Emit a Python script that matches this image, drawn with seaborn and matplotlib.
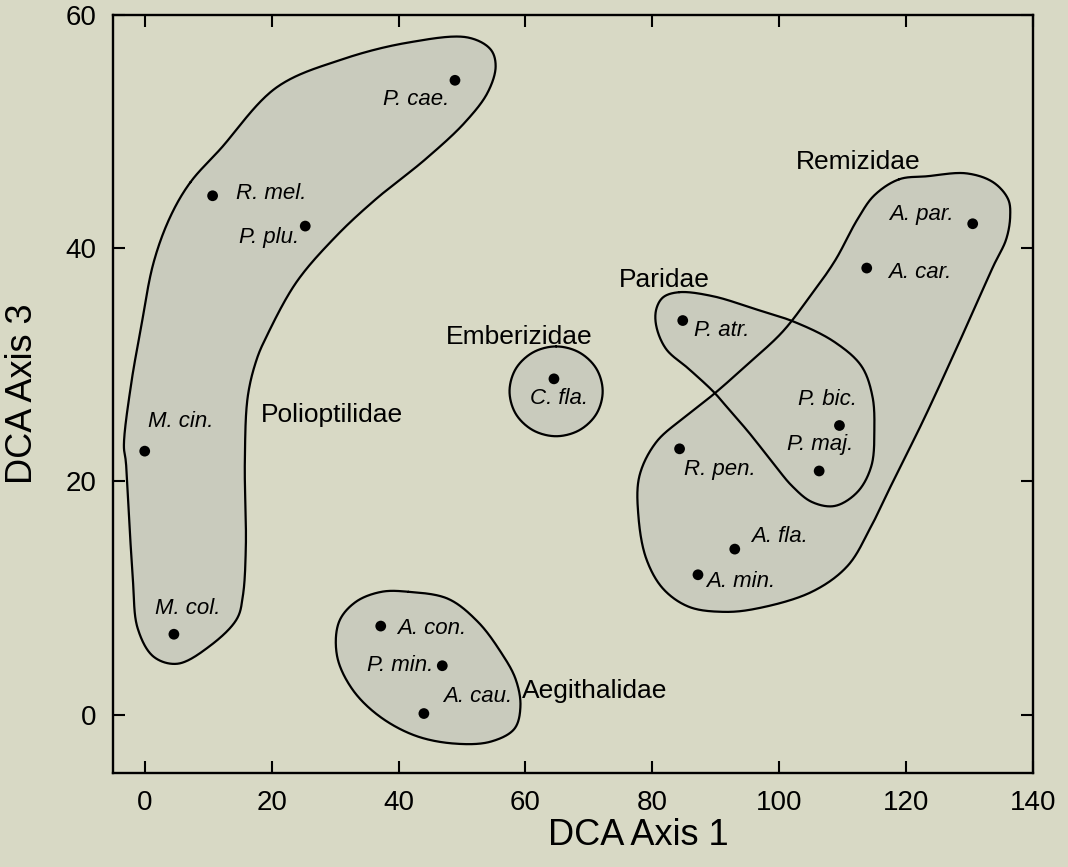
import numpy as np
import pandas as pd
import matplotlib
matplotlib.use("Agg")
import matplotlib.pyplot as plt
import seaborn as sns

# --- species scores on DCA axes 1 and 3 ---
species = ["P. cae.", "R. mel.", "P. plu.", "M. cin.", "M. col.",
           "A. con.", "P. min.", "A. cau.", "C. fla.",
           "P. atr.", "P. bic.", "P. maj.",
           "R. pen.", "A. fla.", "A. min.", "A. par.", "A. car."]
axis1 = [48.9, 10.7, 25.3, 0.0, 4.6,
         37.2, 46.9, 44.0, 64.5,
         84.8, 109.5, 106.3,
         84.3, 93.0, 87.2, 130.5, 113.8]
axis3 = [54.4, 44.5, 41.9, 22.6, 6.9,
         7.6, 4.2, 0.1, 28.8,
         33.8, 24.8, 20.9,
         22.8, 14.2, 12.0, 42.1, 38.3]

# --- family envelopes (outline vertices in DCA units) ---
polioptilidae = [(7.19, 45.65), (11.88, 48.48), (20.78, 53.79), (31.09, 56.19),
                 (41.56, 57.64), (50.94, 58.07), (54.53, 57.04), (55.31, 55.59),
                 (54.06, 53.36), (50.47, 50.79), (44.22, 47.62), (36.41, 44.20),
                 (30.16, 41.03), (23.91, 37.09), (19.22, 32.46), (17.66, 30.49),
                 (16.25, 27.32), (15.78, 21.67), (15.94, 14.48), (15.47, 10.19),
                 (14.53, 8.22), (10.31, 5.91), (5.16, 4.37), (1.41, 4.97),
                 (-1.09, 7.37), (-1.88, 11.65), (-2.97, 21.67), (-3.28, 23.04),
                 (-2.19, 28.18), (-0.63, 33.06), (1.41, 38.80), (4.06, 42.74)]
remizidae = [(118.90, 45.91), (123.28, 46.17), (129.53, 46.42), (133.75, 45.65),
             (136.09, 44.20), (136.41, 42.74), (135.78, 40.77), (133.75, 38.46),
             (129.53, 33.32), (122.81, 25.35), (118.13, 20.21), (114.53, 16.19),
             (110.78, 12.76), (105.16, 10.54), (96.25, 9.08), (91.09, 8.82),
             (85.78, 9.25), (81.72, 10.79), (79.06, 13.36), (77.81, 17.04),
             (77.97, 20.47), (80.63, 23.38), (85.31, 25.61), (89.69, 27.49),
             (94.69, 29.89), (100.47, 32.80), (104.53, 35.63), (108.75, 38.89),
             (112.34, 42.48), (115.00, 44.54)]
paridae = [(84.22, 36.23), (89.53, 35.89), (96.25, 34.78), (102.50, 33.66),
           (108.75, 31.95), (112.97, 29.89), (114.69, 27.32), (115.00, 24.50),
           (114.53, 21.33), (112.34, 19.10), (108.75, 17.90), (105.16, 18.24),
           (102.03, 19.61), (98.91, 21.67), (95.16, 24.24), (92.03, 26.21),
           (89.69, 27.67), (85.78, 29.64), (82.19, 31.35), (80.63, 33.32),
           (80.63, 34.78), (81.72, 35.80)]
emberizidae = [(64.84, 31.58), (68.51, 31.06), (71.20, 29.66), (72.18, 27.73),
               (71.20, 25.80), (68.51, 24.40), (64.84, 23.88), (61.17, 24.40),
               (58.48, 25.80), (57.50, 27.73), (58.48, 29.66), (61.17, 31.06)]
aegithalidae = [(41.56, 10.54), (47.81, 9.94), (52.50, 7.97), (56.09, 5.40),
                (58.44, 3.08), (59.22, 0.77), (58.28, -1.20), (54.53, -2.31),
                (48.91, -2.48), (42.66, -1.80), (36.88, -0.09), (32.66, 2.23),
                (30.31, 5.05), (30.63, 7.97), (33.28, 9.68), (37.34, 10.54)]

families = ["Polioptilidae", "Emberizidae", "Paridae", "Remizidae", "Aegithalidae"]

# label offsets (pixels) and alignment for the species names
label_style = {
    "P. cae.": (-6, -19, "right"), "R. mel.": (23, 2, "left"),
    "P. plu.": (-6, -11, "right"), "M. cin.": (3, 30, "left"),
    "M. col.": (14, 26, "center"), "A. con.": (16, -2, "left"),
    "P. min.": (-9, 0, "right"), "A. cau.": (19, 17, "left"),
    "C. fla.": (5, -20, "center"), "P. atr.": (11, -10, "left"),
    "P. bic.": (-12, 26, "center"), "P. maj.": (1, 26, "center"),
    "R. pen.": (4, -21, "left"), "A. fla.": (16, 13, "left"),
    "A. min.": (8, -7, "left"), "A. par.": (-19, 9, "right"),
    "A. car.": (21, -4, "left"),
}
family_pos = {
    "Polioptilidae": (29.5, 25.7, "center"), "Emberizidae": (59.1, 32.4, "center"),
    "Paridae": (81.9, 37.3, "center"), "Remizidae": (112.5, 47.4, "center"),
    "Aegithalidae": (59.5, 2.0, "left"),
}


def closed_spline(P, n=40, alpha=0.5):
    """Closed centripetal Catmull-Rom curve through the vertices P (display units)."""
    P = np.asarray(P, dtype=float)
    m = len(P)
    segs = []
    for i in range(m):
        p0, p1, p2, p3 = P[(i - 1) % m], P[i], P[(i + 1) % m], P[(i + 2) % m]
        t0 = 0.0
        t1 = t0 + np.linalg.norm(p1 - p0) ** alpha
        t2 = t1 + np.linalg.norm(p2 - p1) ** alpha
        t3 = t2 + np.linalg.norm(p3 - p2) ** alpha
        t = np.linspace(t1, t2, n, endpoint=False)[:, None]
        a1 = (t1 - t) / (t1 - t0) * p0 + (t - t0) / (t1 - t0) * p1
        a2 = (t2 - t) / (t2 - t1) * p1 + (t - t1) / (t2 - t1) * p2
        a3 = (t3 - t) / (t3 - t2) * p2 + (t - t2) / (t3 - t2) * p3
        b1 = (t2 - t) / (t2 - t0) * a1 + (t - t0) / (t2 - t0) * a2
        b2 = (t3 - t) / (t3 - t1) * a2 + (t - t1) / (t3 - t1) * a3
        segs.append((t2 - t) / (t2 - t1) * b1 + (t - t1) / (t2 - t1) * b2)
    curve = np.vstack(segs)
    return np.vstack([curve, curve[:1]])


BG = "#d8d9c5"
FILL = "#c9cbbd"

sns.set_theme(style="ticks")
plt.rcParams["font.family"] = ["Liberation Sans", "DejaVu Sans"]
plt.rcParams.update({"text.color": "black", "axes.labelcolor": "black",
                     "xtick.color": "black", "ytick.color": "black"})

fig = plt.figure(figsize=(10.68, 8.67), dpi=100, facecolor=BG)
ax = fig.add_axes([0.1058, 0.1084, 0.8614, 0.8743])
ax.set_facecolor(BG)
ax.set_xlim(-5, 140)
ax.set_ylim(-5, 60)

# smooth each envelope in screen space so the curvature looks even
outlines = [polioptilidae, emberizidae, paridae, remizidae, aegithalidae]
to_pix = ax.transData
curves = [to_pix.inverted().transform(closed_spline(to_pix.transform(np.asarray(o))))
          for o in outlines]
for c in curves:
    ax.fill(c[:, 0], c[:, 1], color=FILL, lw=0, zorder=1)
for c in curves:
    ax.plot(c[:, 0], c[:, 1], color="black", lw=1.6, zorder=2,
            solid_joinstyle="round")

df = pd.DataFrame({"species": species, "axis1": axis1, "axis3": axis3})
sns.scatterplot(data=df, x="axis1", y="axis3", ax=ax, color="black",
                s=60, edgecolor="none", zorder=3, legend=False)

for name, x, y in zip(species, axis1, axis3):
    dx, dy, ha = label_style[name]
    ax.annotate(name, (x, y), xytext=(dx, dy), textcoords="offset pixels",
                ha=ha, va="center", fontsize=16, fontstyle="italic", zorder=4)

for fam in families:
    fx, fy, ha = family_pos[fam]
    ax.text(fx, fy, fam, ha=ha, va="center", fontsize=19, zorder=4)

ax.set_xlim(-5, 140)
ax.set_ylim(-5, 60)
ax.set_xticks([0, 20, 40, 60, 80, 100, 120, 140])
ax.set_yticks([0, 20, 40, 60])
ax.tick_params(direction="in", length=8.6, width=1.5, top=True, right=True,
               labelsize=20, pad=12, colors="black")
for sp in ax.spines.values():
    sp.set_linewidth(1.7)
    sp.set_color("black")
    sp.set_visible(True)

ax.set_xlabel("DCA Axis 1", fontsize=26)
ax.set_ylabel("DCA Axis 3", fontsize=26)
ax.xaxis.set_label_coords(0.5707, -0.06)
ax.yaxis.set_label_coords(-0.079, 0.5)

fig.savefig("out.png", dpi=100, facecolor=BG)
